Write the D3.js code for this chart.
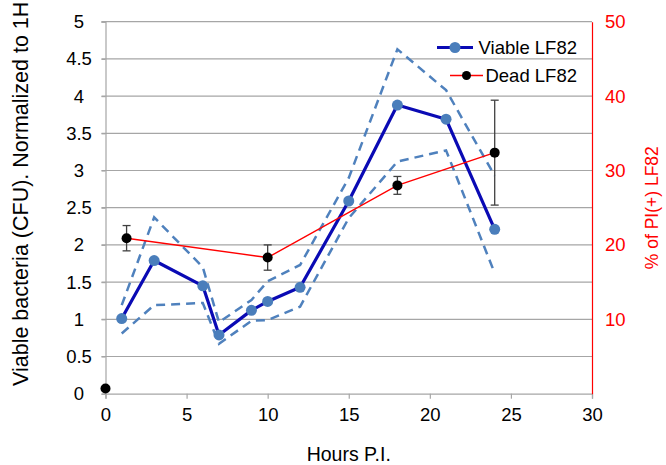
<!DOCTYPE html>
<html>
<head>
<meta charset="utf-8">
<script src="https://cdn.jsdelivr.net/npm/d3@7/dist/d3.min.js"></script>
<style>
  html, body { margin: 0; padding: 0; background: #fff; }
  svg { display: block; font-family: "Liberation Sans", Arial, sans-serif; }
</style>
</head>
<body>
<svg id="chart" width="666" height="465"></svg>
<script>
// viable LF82 (left axis, normalized CFU)
const viableHours = [1, 3, 6, 7, 9, 10, 12, 15, 18, 21, 24];
const viableMean  = [1.01, 1.79, 1.45, 0.79, 1.12, 1.24, 1.43, 2.59, 3.88, 3.69, 2.21];
const viableUpper = [1.19, 2.37, 1.70, 0.96, 1.26, 1.51, 1.73, 2.90, 4.63, 4.08, 2.93];
const viableLower = [0.81, 1.19, 1.22, 0.67, 0.98, 0.99, 1.17, 2.36, 3.12, 3.27, 1.62];

// dead LF82 (right axis, % PI+)
const deadHours = [1.3, 10, 18, 24];
const deadPct   = [20.9, 18.3, 28.0, 32.4];
const deadErr   = [1.7, 1.7, 1.2, 7.05];
const deadStartHour = 0;
const deadStartPct = 0.7;

const leftTicks  = [0, 0.5, 1, 1.5, 2, 2.5, 3, 3.5, 4, 4.5, 5];
const rightTicks = [10, 20, 30, 40, 50];
const xTicks     = [0, 5, 10, 15, 20, 25, 30];

const margin = { left: 105.5, right: 74, top: 21.7, bottom: 71.3 };
const width = 666, height = 465;
const plotW = width - margin.left - margin.right;
const plotH = height - margin.top - margin.bottom;

const svg = d3.select('#chart');
const g = svg.append('g').attr('transform', `translate(${margin.left},${margin.top})`);

const xScale = d3.scaleLinear().domain([0, 30]).range([0, plotW]);
const yScale = d3.scaleLinear().domain([0, 5]).range([plotH, 0]);
const y2Scale = d3.scaleLinear().domain([0, 50]).range([plotH, 0]);

// gridlines
g.append('g')
  .selectAll('line')
  .data(leftTicks.filter(d => d > 0))
  .enter().append('line')
  .attr('x1', -4).attr('x2', plotW)
  .attr('y1', d => yScale(d)).attr('y2', d => yScale(d))
  .attr('stroke', '#a6a6a6').attr('stroke-width', 1.2);

// left axis
const yAxis = d3.axisLeft(yScale).tickValues(leftTicks).tickSize(4).tickPadding(0).tickFormat(d3.format('~g'));
const yAxisG = g.append('g').call(yAxis);
yAxisG.select('.domain').attr('stroke', '#a6a6a6').attr('stroke-width', 1.2);
yAxisG.selectAll('.tick line').attr('stroke', '#a6a6a6').attr('stroke-width', 1.2);
yAxisG.selectAll('.tick text')
  .attr('x', 79 - margin.left).attr('text-anchor', 'middle')
  .attr('font-size', 18.5).attr('fill', '#000');

// bottom axis
const xAxis = d3.axisBottom(xScale).tickValues(xTicks).tickSize(5).tickPadding(9.5);
const xAxisG = g.append('g').attr('transform', `translate(0,${plotH})`).call(xAxis);
xAxisG.select('.domain').attr('stroke', '#a6a6a6').attr('stroke-width', 1.2);
xAxisG.selectAll('.tick line').attr('stroke', '#a6a6a6').attr('stroke-width', 1.2);
xAxisG.selectAll('.tick text').attr('font-size', 18.5).attr('fill', '#000');

// right axis
const y2Axis = d3.axisRight(y2Scale).tickValues(rightTicks).tickSize(0).tickPadding(13);
const y2AxisG = g.append('g').attr('transform', `translate(${plotW},0)`).call(y2Axis);
y2AxisG.select('.domain').attr('stroke', '#ff0000').attr('stroke-width', 1.2);
y2AxisG.selectAll('.tick text').attr('font-size', 18.5).attr('fill', '#ff0000');

// axis titles
svg.append('text')
  .attr('transform', 'translate(28,386) rotate(-90)')
  .attr('font-size', 21.5).attr('fill', '#000')
  .text('Viable bacteria (CFU). Normalized to 1H');

svg.append('text')
  .attr('transform', `translate(658,${margin.top + plotH / 2}) rotate(-90)`)
  .attr('text-anchor', 'middle')
  .attr('font-size', 17.5).attr('fill', '#ff0000')
  .text('% of PI(+) LF82');

svg.append('text')
  .attr('x', margin.left + plotW / 2).attr('y', 461)
  .attr('text-anchor', 'middle')
  .attr('font-size', 19.5).attr('fill', '#000')
  .text('Hours P.I.');

// viable bounds (dashed)
const bandLine = arr => d3.line()
  .x((d, i) => xScale(viableHours[i]))
  .y(d => yScale(d))(arr);

[viableUpper, viableLower].forEach(arr => {
  g.append('path')
    .attr('d', bandLine(arr))
    .attr('fill', 'none')
    .attr('stroke', '#4f81bd')
    .attr('stroke-width', 2.5)
    .attr('stroke-dasharray', '9,6');
});

// viable mean line
g.append('path')
  .attr('d', bandLine(viableMean))
  .attr('fill', 'none')
  .attr('stroke', '#0a0ab4')
  .attr('stroke-width', 3.2)
  .attr('stroke-linejoin', 'round');

g.append('g').selectAll('circle')
  .data(viableMean)
  .enter().append('circle')
  .attr('cx', (d, i) => xScale(viableHours[i]))
  .attr('cy', d => yScale(d))
  .attr('r', 5.5)
  .attr('fill', '#4a7ebb');

// dead line
g.append('path')
  .attr('d', d3.line().x((d, i) => xScale(deadHours[i])).y(d => y2Scale(d))(deadPct))
  .attr('fill', 'none')
  .attr('stroke', '#ff0000')
  .attr('stroke-width', 1.4);

// error bars
const errG = g.append('g').attr('stroke', '#404040').attr('stroke-width', 1.3);
deadPct.forEach((v, i) => {
  const cx = xScale(deadHours[i]);
  const top = y2Scale(v + deadErr[i]);
  const bot = y2Scale(v - deadErr[i]);
  errG.append('line').attr('x1', cx).attr('x2', cx).attr('y1', top).attr('y2', bot);
  errG.append('line').attr('x1', cx - 4).attr('x2', cx + 4).attr('y1', top).attr('y2', top);
  errG.append('line').attr('x1', cx - 4).attr('x2', cx + 4).attr('y1', bot).attr('y2', bot);
});

g.append('g').selectAll('circle')
  .data(deadPct)
  .enter().append('circle')
  .attr('cx', (d, i) => xScale(deadHours[i]))
  .attr('cy', d => y2Scale(d))
  .attr('r', 5)
  .attr('fill', '#000');

g.append('circle')
  .attr('cx', xScale(deadStartHour))
  .attr('cy', y2Scale(deadStartPct))
  .attr('r', 5)
  .attr('fill', '#000');

// legend
const legend = svg.append('g');
legend.append('line')
  .attr('x1', 437).attr('x2', 473).attr('y1', 47.5).attr('y2', 47.5)
  .attr('stroke', '#0a0ab4').attr('stroke-width', 3.2);
legend.append('circle').attr('cx', 455).attr('cy', 47.5).attr('r', 5.5).attr('fill', '#4a7ebb');
legend.append('text').attr('x', 577).attr('y', 53.5).attr('text-anchor', 'end')
  .attr('font-size', 18.5).attr('fill', '#000').text('Viable LF82');

legend.append('line')
  .attr('x1', 450).attr('x2', 483).attr('y1', 75.5).attr('y2', 75.5)
  .attr('stroke', '#ff0000').attr('stroke-width', 1.4);
legend.append('circle').attr('cx', 466.5).attr('cy', 75.5).attr('r', 4.5).attr('fill', '#000');
legend.append('text').attr('x', 577).attr('y', 81.5).attr('text-anchor', 'end')
  .attr('font-size', 18.5).attr('fill', '#000').text('Dead LF82');
</script>
</body>
</html>
